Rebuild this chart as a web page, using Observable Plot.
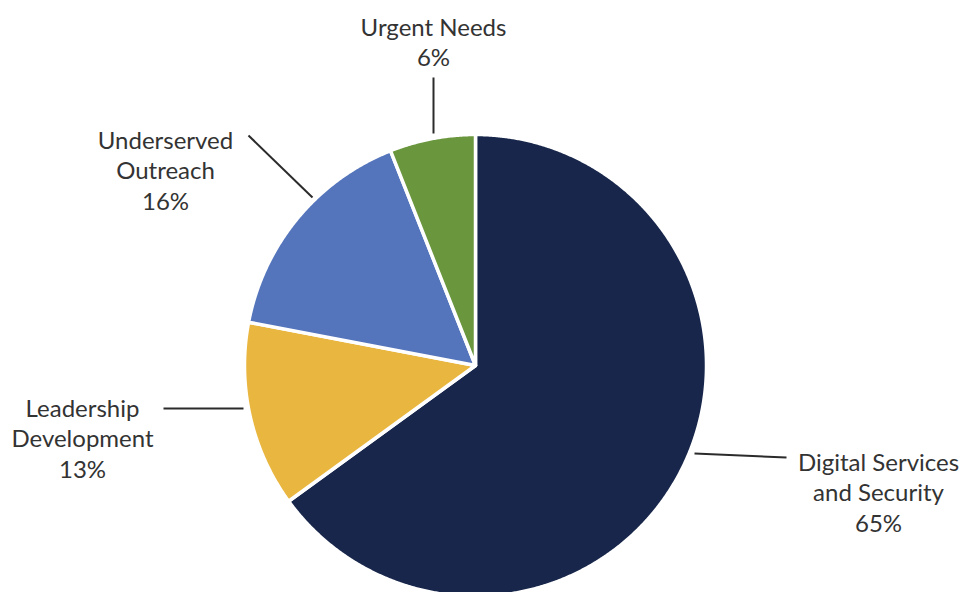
<!DOCTYPE html>
<html><head><meta charset="utf-8">
<script src="https://cdn.jsdelivr.net/npm/d3@7"></script>
<script src="https://cdn.jsdelivr.net/npm/@observablehq/plot@0.6"></script>
<style>html,body{margin:0;padding:0;background:#fff}#chart svg{display:block}</style>
</head><body><div id="chart"></div>
<script>
// ---- data ----
const categories = ["Digital Services and Security", "Leadership Development", "Underserved Outreach", "Urgent Needs"];
const labelLines = [["Digital Services", "and Security"], ["Leadership", "Development"], ["Underserved", "Outreach"], ["Urgent Needs"]];
const shares = [65, 13, 16, 6];
const colors = ["#17264a", "#e9b640", "#5475bb", "#6a963e"];

// ---- layout (pixels relative to pie centre) ----
const W = 964, H = 592, CX = 475, CY = 365, R = 231;
const leaderLayout = [
  {start: [219, 88],   end: [311, 92],   text: [403, 126]},
  {start: [-232, 43],  end: [-312, 43],  text: [-393, 72]},
  {start: [-163, -168], end: [-227, -230], text: [-310, -196]},
  {start: [-42, -232], end: [-42, -288], text: [-42, -324]}
];

// pie geometry in radius units (y up)
const arcs = d3.pie().sort(null).value(d => d)(shares);
const rows = [];
arcs.forEach((a, i) => {
  rows.push({cat: categories[i], x: 0, y: 0});
  const n = Math.max(2, Math.ceil((a.endAngle - a.startAngle) / 0.005));
  for (let k = 0; k <= n; k++) {
    const t = a.startAngle + (a.endAngle - a.startAngle) * k / n;
    rows.push({cat: categories[i], x: Math.sin(t), y: Math.cos(t)});
  }
});
const px = v => v / R;
const leaders = leaderLayout.map(l => ({x1: px(l.start[0]), y1: -px(l.start[1]), x2: px(l.end[0]), y2: -px(l.end[1])}));
const labels = categories.map((c, i) => ({
  x: px(leaderLayout[i].text[0]), y: -px(leaderLayout[i].text[1]),
  text: [...labelLines[i], shares[i] + "%"].join("\n")
}));

const chart = Plot.plot({
  width: W, height: H,
  margin: 0,
  x: {domain: [-CX / R, (W - CX) / R], range: [0, W], axis: null},
  y: {domain: [-(H - CY) / R, CY / R], range: [H, 0], axis: null},
  color: {domain: categories, range: colors},
  style: {fontFamily: "Lato, sans-serif", background: "#fff"},
  marks: [
    Plot.line(rows, {x: "x", y: "y", z: "cat", fill: "cat", stroke: "white", strokeWidth: 3.5, curve: "linear-closed", strokeLinejoin: "round"}),
    Plot.link(leaders, {x1: "x1", y1: "y1", x2: "x2", y2: "y2", stroke: "#2b2b2b", strokeWidth: 2}),
    Plot.text(labels, {x: "x", y: "y", text: "text", fontSize: 24, lineHeight: 1.27, fill: "#333", textAnchor: "middle", lineAnchor: "middle"})
  ]
});
document.getElementById("chart").appendChild(chart);
</script>
</body></html>
